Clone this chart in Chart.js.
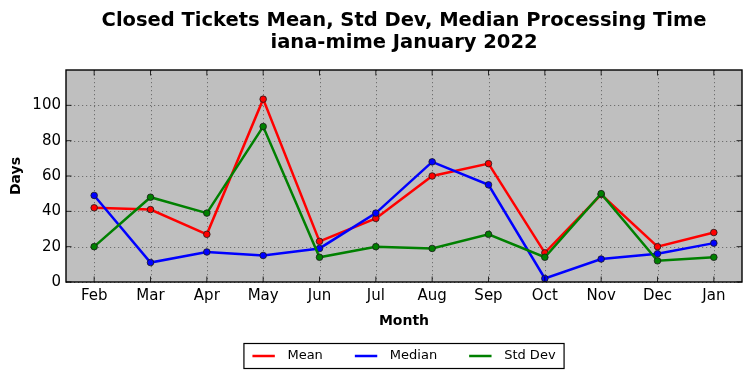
<!DOCTYPE html>
<html><head><meta charset="utf-8">
<script src="https://cdn.jsdelivr.net/npm/chart.js@4/dist/chart.umd.min.js"></script>
<style>html,body{margin:0;padding:0;background:#fff}#wrap{width:752px;height:378px}canvas{display:block}</style>
</head><body><div id="wrap"><canvas id="c" width="752" height="378"></canvas></div>
<script>
const months = ['Feb','Mar','Apr','May','Jun','Jul','Aug','Sep','Oct','Nov','Dec','Jan'];
const meanDays = [42, 41, 27, 103.5, 23, 36, 60, 67, 16.5, 49.5, 20, 28];
const medianDays = [49, 11, 17, 15, 19, 39, 68, 55, 2, 13, 16, 22];
const stdDevDays = [20, 48, 39, 88, 14, 20, 19, 27, 14, 50, 12, 14];
const yTickValues = [0, 20, 40, 60, 80, 100];
const titleLines = ['Closed Tickets Mean, Std Dev, Median Processing Time', 'iana-mime January 2022'];
const seriesNames = ['Mean', 'Median', 'Std Dev'];
const seriesColors = ['#ff0000', '#0000ff', '#008000'];

const FONT = "'DejaVu Sans', 'Liberation Sans', sans-serif";

const plotBg = {
  id: 'plotBg',
  beforeDraw(chart) {
    const {ctx, chartArea: a} = chart;
    ctx.save();
    ctx.fillStyle = '#bfbfbf';
    ctx.fillRect(a.left, a.top, a.right - a.left, a.bottom - a.top);
    ctx.restore();
  },
  beforeDatasetsDraw(chart) {
    const {ctx, chartArea: a, scales} = chart;
    ctx.save();
    ctx.strokeStyle = '#5a5a5a';
    ctx.lineWidth = 0.8;
    ctx.setLineDash([1.2, 2.8]);
    ctx.beginPath();
    scales.x.ticks.forEach((t, i) => {
      const x = Math.round(scales.x.getPixelForTick(i)) + 0.5;
      ctx.moveTo(x, a.top); ctx.lineTo(x, a.bottom);
    });
    scales.y.ticks.forEach(t => {
      const y = Math.round(scales.y.getPixelForValue(t.value)) + 0.5;
      ctx.moveTo(a.left, y); ctx.lineTo(a.right, y);
    });
    ctx.stroke();
    ctx.restore();
  }
};

const frameTitleLegend = {
  id: 'frameTitleLegend',
  afterDraw(chart) {
    const {ctx, chartArea: a, scales} = chart;
    ctx.save();
    ctx.strokeStyle = '#000';
    ctx.lineWidth = 0.8;
    const tl = 5.5;
    ctx.beginPath();
    scales.x.ticks.forEach((t, i) => {
      const x = scales.x.getPixelForTick(i);
      ctx.moveTo(x, a.bottom); ctx.lineTo(x, a.bottom - tl);
      ctx.moveTo(x, a.top); ctx.lineTo(x, a.top + tl);
    });
    scales.y.ticks.forEach(t => {
      const y = scales.y.getPixelForValue(t.value);
      ctx.moveTo(a.left, y); ctx.lineTo(a.left + tl, y);
      ctx.moveTo(a.right, y); ctx.lineTo(a.right - tl, y);
    });
    ctx.stroke();
    ctx.lineWidth = 1.4;
    ctx.strokeRect(a.left, a.top, a.right - a.left, a.bottom - a.top);

    const cx = (a.left + a.right) / 2;

    // title, centred over the axes
    ctx.fillStyle = '#000';
    ctx.textAlign = 'center';
    ctx.textBaseline = 'alphabetic';
    ctx.font = 'bold 19.5px ' + FONT;
    ctx.fillText(titleLines[0], cx, 26);
    ctx.fillText(titleLines[1], cx, 47.5);

    // legend
    ctx.font = '13px ' + FONT;
    const pad = 8.5, lineLen = 22.4, gap = 12.6, itemGap = 32;
    const widths = seriesNames.map(n => ctx.measureText(n).width);
    let total = pad * 2;
    widths.forEach((w, i) => { total += lineLen + gap + w + (i < widths.length - 1 ? itemGap : 0); });
    const bx = cx - total / 2, by = 343.5, bh = 25;
    ctx.fillStyle = '#fff';
    ctx.fillRect(bx, by, total, bh);
    ctx.lineWidth = 1.2;
    ctx.strokeStyle = '#000';
    ctx.strokeRect(bx, by, total, bh);
    let x = bx + pad;
    const ly = by + bh / 2;
    seriesNames.forEach((n, i) => {
      ctx.strokeStyle = seriesColors[i];
      ctx.lineWidth = 2.5;
      ctx.beginPath(); ctx.moveTo(x, ly); ctx.lineTo(x + lineLen, ly); ctx.stroke();
      x += lineLen + gap;
      ctx.fillStyle = '#000';
      ctx.textBaseline = 'middle';
      ctx.textAlign = 'left';
      ctx.fillText(n, x, ly);
      x += widths[i] + itemGap;
    });
    ctx.restore();
  }
};

function ds(label, data, color, order) {
  return {
    label, data, order,
    borderColor: color, backgroundColor: color,
    borderWidth: 2.5, tension: 0,
    pointRadius: 3.3, pointBorderColor: '#1a1a1a', pointBorderWidth: 0.8,
    pointBackgroundColor: color
  };
}

new Chart(document.getElementById('c'), {
  type: 'line',
  data: {
    labels: months,
    datasets: [
      ds(seriesNames[0], meanDays, seriesColors[0], 3),
      ds(seriesNames[1], medianDays, seriesColors[1], 2),
      ds(seriesNames[2], stdDevDays, seriesColors[2], 1)
    ]
  },
  options: {
    responsive: false,
    animation: false,
    devicePixelRatio: 1,
    layout: { padding: { top: 70, right: 10, bottom: 46, left: 0 } },
    plugins: {
      legend: { display: false },
      tooltip: { enabled: false },
      title: { display: false }
    },
    scales: {
      x: {
        type: 'category',
        offset: true,
        grid: { display: false, drawTicks: false },
        border: { display: false },
        ticks: { color: '#000', font: { family: FONT, size: 15 }, padding: 5, maxRotation: 0, autoSkip: false },
        title: { display: true, text: 'Month', color: '#000', font: { family: FONT, size: 14, weight: 'bold', lineHeight: 1.2 }, padding: { top: 4, bottom: 2.5 } },
        afterFit(s) { s.height = 50; }
      },
      y: {
        min: 0, max: 120,
        afterBuildTicks(s) { s.ticks = yTickValues.map(v => ({ value: v })); },
        grid: { display: false, drawTicks: false },
        border: { display: false },
        ticks: { color: '#000', font: { family: FONT, size: 15 }, padding: 5 },
        title: { display: true, text: 'Days', color: '#000', font: { family: FONT, size: 14, weight: 'bold', lineHeight: 1.2 }, padding: { top: 8, bottom: 4 } },
        afterFit(s) { s.width = 66; }
      }
    }
  },
  plugins: [plotBg, frameTitleLegend]
});
</script>
</body></html>
